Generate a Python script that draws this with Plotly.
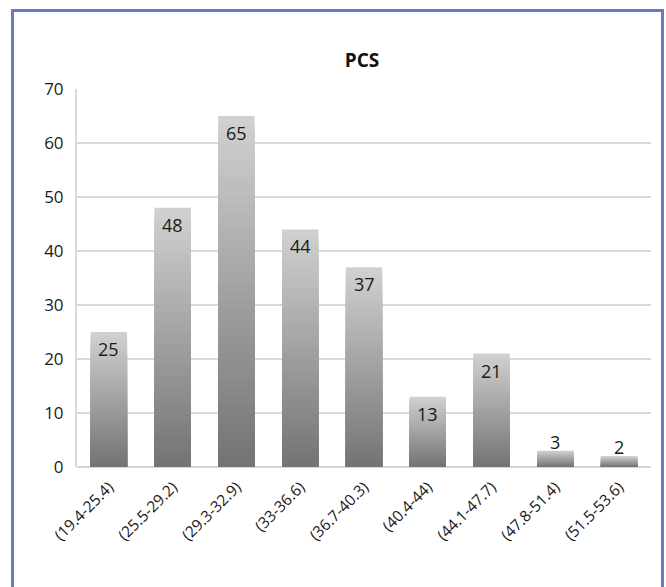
import plotly.graph_objects as go

# PCS score bands and the number of cases in each
categories = ["(19.4-25.4)", "(25.5-29.2)", "(29.3-32.9)", "(33-36.6)", "(36.7-40.3)",
              "(40.4-44)", "(44.1-47.7)", "(47.8-51.4)", "(51.5-53.6)"]
counts = [25, 48, 65, 44, 37, 13, 21, 3, 2]
y_ticks = [0, 10, 20, 30, 40, 50, 60, 70]

W, H = 666, 587
L, R, T, B = 77, 15, 89, 120

TOP_RGB = (208, 208, 208)
BOTTOM_RGB = (116, 116, 116)
STEPS = 40


def shade(frac):
    c = [round(a + (b - a) * frac) for a, b in zip(TOP_RGB, BOTTOM_RGB)]
    return f"rgb({c[0]},{c[1]},{c[2]})"


fig = go.Figure()

# vertical gradient: successively shorter bars overlaid, each a little darker
for k in range(STEPS):
    keep = (STEPS - k) / STEPS
    fig.add_trace(go.Bar(
        x=categories,
        y=[v * keep for v in counts],
        marker=dict(color=shade(k / (STEPS - 1)), line=dict(width=0)),
        hoverinfo="skip",
        showlegend=False,
    ))

# value labels: inside the top of tall bars, above the short ones
for cat, v in zip(categories, counts):
    inside = v >= 10
    fig.add_annotation(
        x=cat, y=v, text=str(v), showarrow=False,
        yanchor="top" if inside else "bottom",
        yshift=-3 if inside else -5,
        font=dict(family="Open Sans", size=18, color="#1a1a1a"),
    )

# outer frame
pw, ph = W - L - R, H - T - B
def px_x(p):
    return (p - L) / pw
def px_y(p):
    return (H - B - p) / ph

fig.add_shape(
    type="rect", xref="paper", yref="paper",
    x0=px_x(12.5), x1=px_x(662.5), y0=px_y(10.5), y1=px_y(610),
    line=dict(color="#6a79c2", width=3), fillcolor="rgba(0,0,0,0)", layer="above",
)

fig.update_layout(
    width=W, height=H,
    margin=dict(l=L, r=R, t=T, b=B, pad=0),
    paper_bgcolor="white", plot_bgcolor="white",
    barmode="overlay", bargap=0.43,
    title=dict(text="<b>PCS</b>", x=px_x(362), xanchor="center", xref="paper",
               y=1 - 60 / H, yanchor="middle",
               font=dict(family="Open Sans", size=19, color="#111111")),
    font=dict(family="Open Sans", color="#1a1a1a"),
)

fig.update_xaxes(
    type="category", tickangle=-45,
    tickfont=dict(family="Open Sans", size=15.5, color="#1a1a1a"),
    showline=False, showgrid=False, ticks="", ticklen=0,
    ticklabelstandoff=7,
)
fig.update_yaxes(
    range=[0, 70], tickvals=y_ticks, ticktext=[str(t) for t in y_ticks],
    tickfont=dict(family="Open Sans", size=17, color="#1a1a1a"),
    showgrid=True, gridcolor="#dadada", gridwidth=2,
    zeroline=True, zerolinecolor="#d6d6d6", zerolinewidth=2,
    showline=True, linecolor="#dadada", linewidth=2,
    ticks="", ticklabelstandoff=8,
)

fig.write_html("out.html")
